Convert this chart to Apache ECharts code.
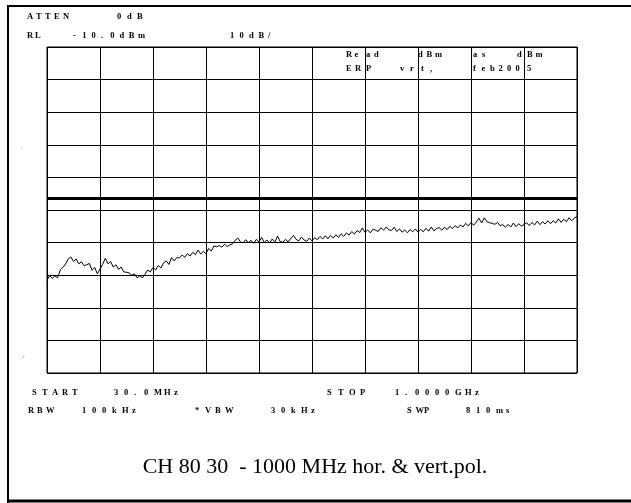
<!DOCTYPE html>
<html>
<head>
<meta charset="utf-8">
<title>CH 80 30 - 1000 MHz</title>
<script src="https://cdn.jsdelivr.net/npm/echarts@6/dist/echarts.min.js"></script>
<style>
  html, body { margin: 0; padding: 0; background: #fff; }
  #chart { width: 631px; height: 503px; }
</style>
</head>
<body>
<div id="chart"></div>
<script>
// Sweep settings (30 MHz .. 1 GHz, 201 sweep points across 10 divisions)
const sweepPoints = 200;          // index of the last sweep point
const refLevel = -10;             // dBm, top graticule line
const dbPerDiv = 10;
const limitLevel = -56.5;         // dBm, heavy reference line

// Measured trace level at each sweep point, dBm
const traceLevels = [
  -81.6, -80.1, -81.0, -80.2, -80.8, -78.4, -77.6, -76.6, -75.0, -74.4,
  -75.8, -75.0, -76.5, -75.9, -77.1, -76.8, -76.4, -78.5, -77.6, -79.6,
  -78.1, -76.7, -74.8, -76.5, -75.8, -77.5, -76.8, -78.2, -77.5, -79.0,
  -79.1, -79.3, -80.0, -79.6, -80.8, -80.2, -80.8, -79.7, -78.4, -79.0,
  -77.6, -78.4, -77.0, -77.8, -76.2, -75.6, -76.7, -74.6, -75.6, -74.6,
  -74.7, -73.8, -74.5, -73.4, -74.1, -73.0, -73.7, -72.3, -73.5, -72.7,
  -73.4, -71.8, -72.6, -71.0, -71.3, -70.9, -71.4, -70.5, -71.2, -70.7,
  -70.4, -69.3, -68.6, -69.8, -70.1, -69.1, -70.0, -69.3, -70.2, -69.0,
  -69.8, -68.4, -70.0, -69.2, -70.1, -68.9, -69.9, -68.0, -69.7, -69.9,
  -69.0, -69.8, -68.7, -67.8, -69.0, -69.5, -68.3, -69.2, -69.6, -68.6,
  -69.5, -68.5, -69.1, -68.1, -68.9, -67.9, -68.8, -67.8, -68.6, -67.6,
  -68.4, -67.3, -68.1, -67.0, -67.7, -66.6, -67.4, -66.3, -66.9, -65.5,
  -66.9, -66.1, -67.0, -65.9, -66.2, -66.6, -65.4, -66.2, -65.2, -66.1,
  -66.3, -65.3, -66.6, -65.8, -66.8, -66.1, -67.0, -66.0, -66.7, -65.8,
  -66.8, -66.0, -66.7, -65.6, -66.5, -65.2, -66.4, -65.7, -65.4, -66.2,
  -65.3, -66.0, -65.0, -65.7, -64.8, -65.5, -64.6, -65.2, -64.1, -64.9,
  -63.8, -64.7, -63.7, -62.5, -64.0, -62.4, -63.6, -63.9, -64.1, -64.4,
  -63.8, -64.8, -64.5, -65.3, -64.4, -65.2, -64.0, -65.1, -64.2, -64.9,
  -64.5, -63.9, -64.8, -63.8, -64.6, -63.4, -64.5, -63.6, -64.3, -63.3,
  -64.2, -63.3, -64.0, -62.7, -63.8, -62.8, -63.6, -62.4, -63.3, -62.5,
  -62.0
];

// Annotation text: [text, x, y, character pitch]
const headerTexts = [
  ['ATTEN', 27, 17, 9], ['0dB', 117, 17, 10],
  ['RL', 27, 36, 8], ['-10.0dBm', 73, 36, 9.3], ['10dB/', 230, 36, 9.5]
];
const markerTexts = [
  ['Re', 346, 55, 8.5], ['ad', 366, 55, 8], ['dBm', 418, 55, 8.5],
  ['as', 473, 55, 9], ['d', 517, 55, 8], ['Bm', 527, 55, 8.5],
  ['ER', 346, 69, 9], ['P', 366, 69, 8], ['vr', 400, 69, 10],
  ['t,', 421, 69, 9], ['feb200', 473, 69, 8.5], ['5', 527, 69, 8]
];
const footerTexts = [
  ['START', 32, 393, 10], ['30.0MHz', 114, 393, 10],
  ['STOP', 327, 393, 11], ['1.0000GHz', 395, 393, 10],
  ['RBW', 28, 411, 9], ['100kHz', 82, 411, 10], ['*VBW', 195, 411, 10],
  ['30kHz', 271, 411, 10], ['SWP', 407, 411, 8.5], ['810ms', 466, 411, 10]
];
const caption = 'CH 80 30  - 1000 MHz hor. & vert.pol.';

// Analyzer style lettering: one glyph per fixed-pitch cell
function spacedText(item) {
  const [str, x, y, pitch] = item;
  return str.split('').map(function (ch, k) {
    return {
      type: 'text',
      x: x + k * pitch,
      y: y,
      z: 5,
      silent: true,
      style: {
        text: ch,
        font: 'bold 8.5px "Liberation Serif"',
        fill: '#000',
        align: 'left', verticalAlign: 'middle',
        textAlign: 'left', textVerticalAlign: 'middle'
      }
    };
  });
}

const textElements = []
  .concat(...headerTexts.map(spacedText))
  .concat(...markerTexts.map(spacedText))
  .concat(...footerTexts.map(spacedText));

const frameElements = [
  { type: 'line', shape: { x1: 7, y1: 6, x2: 631, y2: 6 }, style: { stroke: '#000', lineWidth: 2 } },
  { type: 'line', shape: { x1: 8, y1: 5, x2: 8, y2: 503 }, style: { stroke: '#000', lineWidth: 2 } },
  { type: 'line', shape: { x1: 7, y1: 501, x2: 631, y2: 501 }, style: { stroke: '#000', lineWidth: 3 } },
  { type: 'text', x: 22, y: 149, style: { text: "'", font: '7px "Liberation Serif"', fill: '#777', align: 'center', verticalAlign: 'middle', textAlign: 'center', textVerticalAlign: 'middle' } },
  { type: 'text', x: 23, y: 357, style: { text: '/', font: 'italic 7px "Liberation Serif"', fill: '#666', align: 'center', verticalAlign: 'middle', textAlign: 'center', textVerticalAlign: 'middle' } },
  { type: 'text', x: 315, y: 467, style: { text: caption, font: '22px "Liberation Serif"', fill: '#000', align: 'center', verticalAlign: 'middle', textAlign: 'center', textVerticalAlign: 'middle' } }
];

const chart = echarts.init(document.getElementById('chart'), null, { renderer: 'canvas' });
chart.setOption({
  animation: false,
  backgroundColor: '#fff',
  grid: {
    left: 47, top: 47, width: 530, height: 326,
    show: true, borderColor: '#000', borderWidth: 1, backgroundColor: 'transparent'
  },
  xAxis: {
    type: 'value',
    min: 0, max: sweepPoints, interval: sweepPoints / 10,
    axisLine: { show: false }, axisTick: { show: false }, axisLabel: { show: false },
    splitLine: { show: true, lineStyle: { color: '#000', width: 1 } }
  },
  yAxis: {
    type: 'value',
    min: refLevel - 10 * dbPerDiv, max: refLevel, interval: dbPerDiv,
    axisLine: { show: false }, axisTick: { show: false }, axisLabel: { show: false },
    splitLine: { show: true, lineStyle: { color: '#000', width: 1 } }
  },
  series: [{
    type: 'line',
    data: traceLevels.map(function (v, i) { return [i, v]; }),
    showSymbol: false,
    symbol: 'none',
    lineStyle: { color: '#000', width: 1 },
    silent: true,
    markLine: {
      silent: true,
      symbol: 'none',
      label: { show: false },
      lineStyle: { color: '#000', width: 3, type: 'solid' },
      data: [{ yAxis: limitLevel }]
    }
  }],
  graphic: { elements: frameElements.concat(textElements) }
});
</script>
</body>
</html>
